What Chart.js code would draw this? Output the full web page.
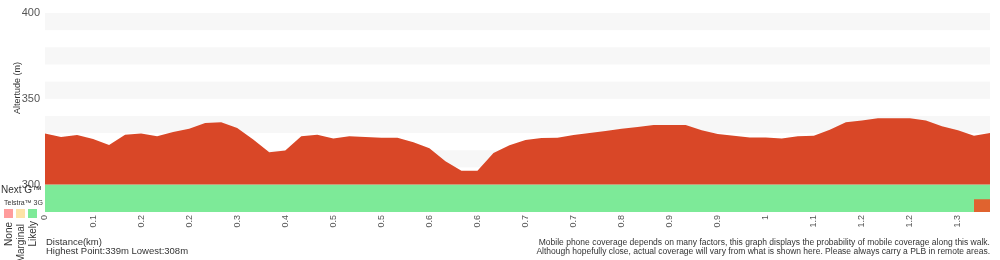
<!doctype html>
<html>
<head>
<meta charset="utf-8">
<title>Walk elevation and coverage</title>
<script src="https://cdn.jsdelivr.net/npm/chart.js"></script>
<style>
  body { margin: 0; background: #fff; font-family: "Liberation Sans", Arial, sans-serif; color: #333; }
  #wrap { position: relative; width: 1000px; height: 260px; }
  .t { position: absolute; white-space: nowrap; }
  .up { writing-mode: vertical-rl; transform: rotate(180deg); line-height: 10px; }
  .sw { position: absolute; width: 9px; height: 9px; top: 209px; }
</style>
</head>
<body>
<div id="wrap">
  <canvas id="profile" width="1000" height="260"></canvas>

  <div class="t up" style="left:12px; top:62px; font-size:9px;">Altertude (m)</div>

  <!-- coverage legend -->
  <div class="t" style="left:1px; top:184px; font-size:10px;">Next G™</div>
  <div class="t" style="left:4px; top:199px; font-size:7px;">Telstra™ 3G</div>
  <div class="sw" style="left:4px; background:#ff9c9c;"></div>
  <div class="sw" style="left:16px; background:#fde3a7;"></div>
  <div class="sw" style="left:28px; background:#7dea98;"></div>
  <div class="t up" style="left:4px; top:222px; font-size:10px;">None</div>
  <div class="t up" style="left:16px; top:224px; font-size:10px;">Marginal</div>
  <div class="t up" style="left:28px; top:221px; font-size:10px;">Likely</div>

  <div class="t" style="left:46px; top:237px; font-size:9.5px; line-height:9px;">Distance(km)<br>Highest Point:339m Lowest:308m</div>
  <div class="t" style="right:10px; top:238px; font-size:8.5px; line-height:9px; text-align:right;">Mobile phone coverage depends on many factors, this graph displays the probability of mobile coverage along this walk.<br>Although hopefully close, actual coverage will vary from what is shown here. Please always carry a PLB in remote areas.</div>
</div>

<script>
// elevation (m) at each sample point along the walk
const elevation = [
  329.7, 327.7, 328.9, 326.6, 323.1, 329.0, 329.8, 328.1, 330.6, 332.6,
  335.9, 336.3, 333.0, 326.2, 318.8, 319.8, 328.1, 329.0, 326.9, 328.1,
  327.7, 327.3, 327.3, 324.6, 321.1, 313.6, 308.1, 308.1, 318.4, 322.9,
  326.0, 327.1, 327.3, 328.9, 330.0, 331.2, 332.6, 333.5, 334.7, 334.7,
  334.7, 331.6, 329.5, 328.5, 327.5, 327.5, 326.9, 328.1, 328.5, 332.0,
  336.3, 337.4, 338.6, 338.6, 338.6, 337.4, 334.0, 331.6, 328.5, 330.0
];

// distance labels shown under every third sample point
const distanceTicks = ['0', '0.1', '0.2', '0.2', '0.3', '0.4', '0.5', '0.5', '0.6', '0.6',
                       '0.7', '0.7', '0.8', '0.9', '0.9', '1', '1.1', '1.2', '1.2', '1.3'];
const tickEvery = 3;

const yTicks = [300, 350, 400];

// coverage runs: [first point, last point, status]
const nextGRuns = [[0, 59, 'likely']];
const telstra3GRuns = [[0, 58, 'likely'], [58, 59, 'nodata']];

const coverageColors = {
  none: '#ff9c9c',
  marginal: '#fde3a7',
  likely: '#7dea98',
  nodata: '#e0632f'
};

const base = 300;   // elevation fill base, coverage rows sit below it
const rowH = 8;

const categories = elevation.map((_, i) => i);

function coverageSets(runs, top, overlap) {
  return runs.map(([from, to, status]) => ({
    data: categories.map(i => (i >= from && i <= to) ? top : null),
    fill: { value: top - rowH - overlap },
    backgroundColor: coverageColors[status],
    borderWidth: 0,
    pointRadius: 0,
    spanGaps: false
  }));
}

// alternating grey bands every 10 m
const bands = {
  id: 'bands',
  beforeDatasetsDraw(chart) {
    const { ctx, chartArea, scales: { y } } = chart;
    ctx.save();
    ctx.fillStyle = '#f7f7f7';
    for (let v = 400; v > base; v -= 20) {
      const top = y.getPixelForValue(v);
      const bot = y.getPixelForValue(v - 10);
      ctx.fillRect(chartArea.left, top, chartArea.right - chartArea.left, bot - top);
    }
    ctx.restore();
  }
};

new Chart(document.getElementById('profile'), {
  type: 'line',
  data: {
    labels: categories,
    datasets: [
      {
        data: elevation,
        fill: { value: base },
        backgroundColor: '#d94727',
        borderWidth: 0,
        pointRadius: 0,
        tension: 0
      },
      ...coverageSets(nextGRuns, base, 0.6),
      ...coverageSets(telstra3GRuns, base - rowH, 0)
    ]
  },
  options: {
    responsive: false,
    animation: false,
    devicePixelRatio: 1,
    layout: { padding: { top: 13, right: 10, left: 0, bottom: 0 } },
    plugins: { legend: { display: false }, tooltip: { enabled: false } },
    scales: {
      x: {
        grid: { display: false, drawTicks: false },
        border: { display: false },
        afterBuildTicks: s => { s.ticks = s.ticks.filter(t => t.value % tickEvery === 0); },
        afterFit: s => { s.height = 48; },
        ticks: {
          autoSkip: false,
          minRotation: 90,
          maxRotation: 90,
          padding: 3,
          color: '#555',
          font: { family: '"Liberation Sans", Arial, sans-serif', size: 9 },
          callback: v => distanceTicks[v / tickEvery]
        }
      },
      y: {
        min: 284,
        max: 400,
        grid: { display: false, drawTicks: false },
        border: { display: false },
        afterBuildTicks: s => { s.ticks = yTicks.map(v => ({ value: v })); },
        afterFit: s => { s.width = 45; },
        ticks: {
          padding: 5,
          color: '#555',
          font: { family: '"Liberation Sans", Arial, sans-serif', size: 11 }
        }
      }
    }
  },
  plugins: [bands]
});
</script>
</body>
</html>
